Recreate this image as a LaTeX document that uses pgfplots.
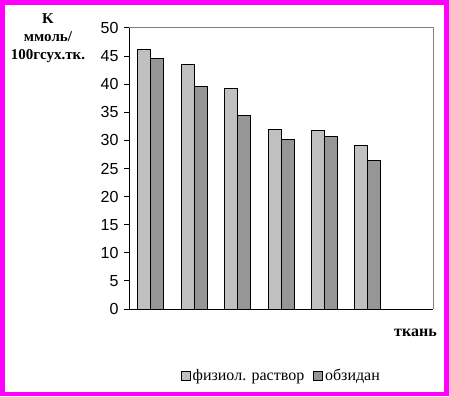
\documentclass[border=0pt]{standalone}
\usepackage{fontspec}
\setmainfont{Liberation Serif}
\setsansfont{Liberation Sans}
\usepackage{pgfplots}
\pgfplotsset{compat=1.18}
\definecolor{lightbar}{HTML}{C0C0C0}
\definecolor{darkbar}{HTML}{969696}
\definecolor{frame}{HTML}{FF00FF}
\definecolor{boxgray}{HTML}{808080}
\begin{document}
\begin{tikzpicture}[x=1pt,y=1pt]
\useasboundingbox (0,0) rectangle (449,396);
\fill[frame] (0,0) rectangle (449,396);
\fill[white] (5,4) rectangle (444,391);
\begin{axis}[
  at={(129pt,87pt)}, anchor=south west,
  scale only axis, width=304pt, height=281pt,
  xmin=0.5, xmax=7.5, ymin=0, ymax=50,
  xtick=\empty, ytick distance=5,
  axis lines=left, axis line style={-, black, line width=1pt},
  tick align=outside, major tick length=5pt,
  tick style={black, line width=1pt},
  /pgf/number format/assume math mode=true,
  yticklabel style={font=\sffamily\fontsize{16}{16}\selectfont, xshift=-2pt},
  ybar=0pt, bar width=13pt,
  clip=false,
  legend columns=2,
  legend style={at={(0.170,-0.238)}, anchor=west, draw=none, fill=none,
    font=\fontsize{16}{16}\selectfont, inner sep=0pt,
    /tikz/every even column/.append style={column sep=7pt}},
  legend image code/.code={\draw[#1, line width=0.8pt] (0pt,-4.5pt) rectangle (9pt,4.5pt);},
  extra description/.code={\draw[boxgray, line width=1pt] (rel axis cs:0,1) -- (rel axis cs:1,1) -- (rel axis cs:1,0);},
]
\addplot[fill=lightbar, draw=black, line width=0.8pt] coordinates {(1,46.25) (2,43.58) (3,39.3) (4,31.99) (5,31.8) (6,29.13)};
\addplot[fill=darkbar, draw=black, line width=0.8pt] coordinates {(1,44.65) (2,39.65) (3,34.48) (4,30.2) (5,30.74) (6,26.46)};
\legend{физиол. раствор, обзидан}
\end{axis}
\node[font=\bfseries\fontsize{15}{18}\selectfont, align=center] at (48,358) {K\\ммоль/\\100гсух.тк.};
\node[font=\bfseries\fontsize{16}{16}\selectfont] at (415.5,63) {ткань};
\end{tikzpicture}
\end{document}
